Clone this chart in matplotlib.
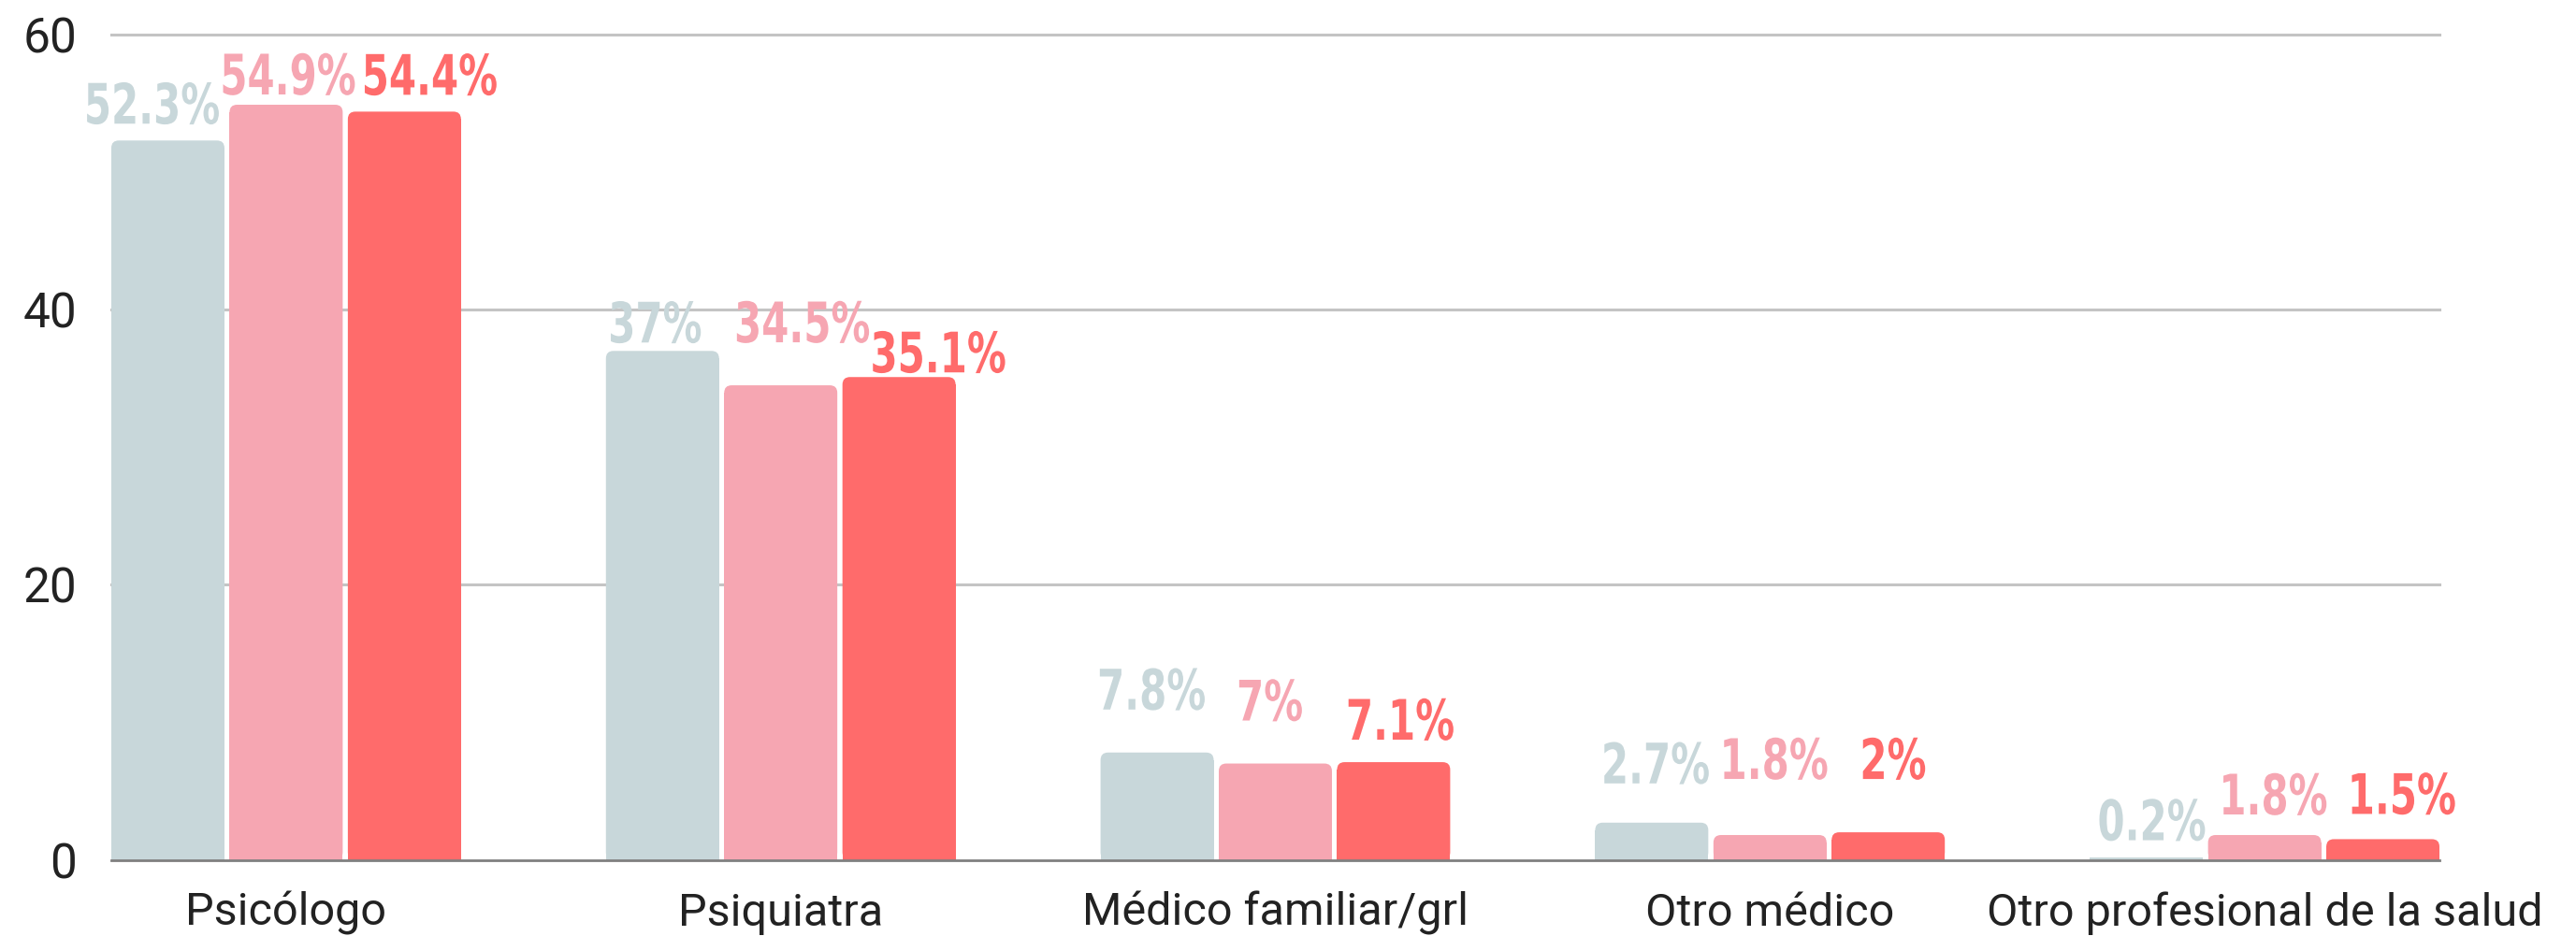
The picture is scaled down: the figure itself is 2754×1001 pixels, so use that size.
import matplotlib
matplotlib.use("Agg")
import matplotlib.pyplot as plt
from matplotlib.patches import FancyBboxPatch
from matplotlib.patheffects import AbstractPathEffect
from matplotlib.transforms import Affine2D
import numpy as np

categories = ["Psicólogo", "Psiquiatra", "Médico familiar/grl",
              "Otro médico", "Otro profesional de la salud"]
serie_a = [52.3, 37, 7.8, 2.7, 0.2]
serie_b = [54.9, 34.5, 7, 1.8, 1.8]
serie_c = [54.4, 35.1, 7.1, 2, 1.5]
yticks = [0, 20, 40, 60]

colors = ["#C8D7DA", "#F6A6B2", "#FF6B6B"]

# nudges for the value labels (pixels), per series / per category
label_dx = [[-17, -8, -6, 4, 6],
            [2, 23, -6, 4, 9],
            [27, 42, 7, 5, 20]]
label_dy = [[18, 9, 46, 42, 18],
            [11, 46, 46, 60, 22],
            [18, 5, 24, 57, 27]]


class Squeeze(AbstractPathEffect):
    """Narrow the glyphs horizontally around the text centre."""

    def __init__(self, sx):
        super().__init__()
        self.sx = sx

    def draw_path(self, renderer, gc, tpath, affine, rgbFace=None):
        ext = tpath.get_extents()
        cx = (ext.x0 + ext.x1) / 2
        sq = Affine2D().translate(-cx, 0).scale(self.sx, 1).translate(cx, 0)
        renderer.draw_path(gc, tpath, sq + affine, rgbFace)


W, H, DPI = 2754, 1001, 100
fig = plt.figure(figsize=(W / DPI, H / DPI), dpi=DPI)
ax_l, ax_r, ax_t, ax_b = 119, 2608, 37, 919.5
ax = fig.add_axes([ax_l / W, 1 - ax_b / H, (ax_r - ax_l) / W, (ax_b - ax_t) / H])

x = np.arange(len(categories))
width = 0.2287
step = 0.2391
half = step + width / 2
ax.set_xlim(-half, len(categories) - 1 + half)
ax.set_ylim(0, 60)

px_x = (ax_r - ax_l) / (2 * half + len(categories) - 1)
px_y = (ax_b - ax_t) / 60
r_px = 8
rx, ry = r_px / px_x, r_px / px_y

series = [serie_a, serie_b, serie_c]
for i, (vals, col) in enumerate(zip(series, colors)):
    bars = ax.bar(x + (i - 1) * step, vals, width, color=col, zorder=2, lw=0)
    for rect in bars:
        x0, w, h = rect.get_x(), rect.get_width(), rect.get_height()
        if h > 2 * ry:
            rect.set_height(h - ry)
            ax.add_patch(FancyBboxPatch((x0, 0), w, h,
                                        boxstyle=f"round,pad=0,rounding_size={rx}",
                                        mutation_aspect=ry / rx,
                                        fc=col, ec="none", zorder=2))
    for j, v in enumerate(vals):
        ax.annotate(f"{v:g}%", xy=(x[j] + (i - 1) * step, v),
                    xytext=(label_dx[i][j], label_dy[i][j]),
                    textcoords="offset pixels", ha="center", va="baseline",
                    color=col, fontsize=43, fontweight="bold",
                    family="DejaVu Sans", fontstretch="condensed",
                    path_effects=[Squeeze(0.78)],
                    zorder=3, annotation_clip=False)

# grid and baseline
for t in yticks[1:]:
    ax.axhline(t, color="#C4C4C4", lw=2.2, zorder=0, clip_on=False)
ax.axhline(0, color="#808080", lw=2.0, zorder=4, clip_on=False)

for sp in ax.spines.values():
    sp.set_visible(False)
ax.set_yticks(yticks)
ax.set_yticklabels([str(t) for t in yticks], fontsize=37, family="Roboto",
                   color="#222222")
ax.tick_params(axis="y", length=0, pad=26.6)
ax.set_xticks([])

for j, cat in enumerate(categories):
    ax.annotate(cat, xy=(x[j], 0), xytext=(0, -70), textcoords="offset pixels",
                ha="center", va="baseline", fontsize=35, family="Roboto",
                color="#222222", annotation_clip=False)

fig.savefig("out.png", dpi=DPI, facecolor="white")
